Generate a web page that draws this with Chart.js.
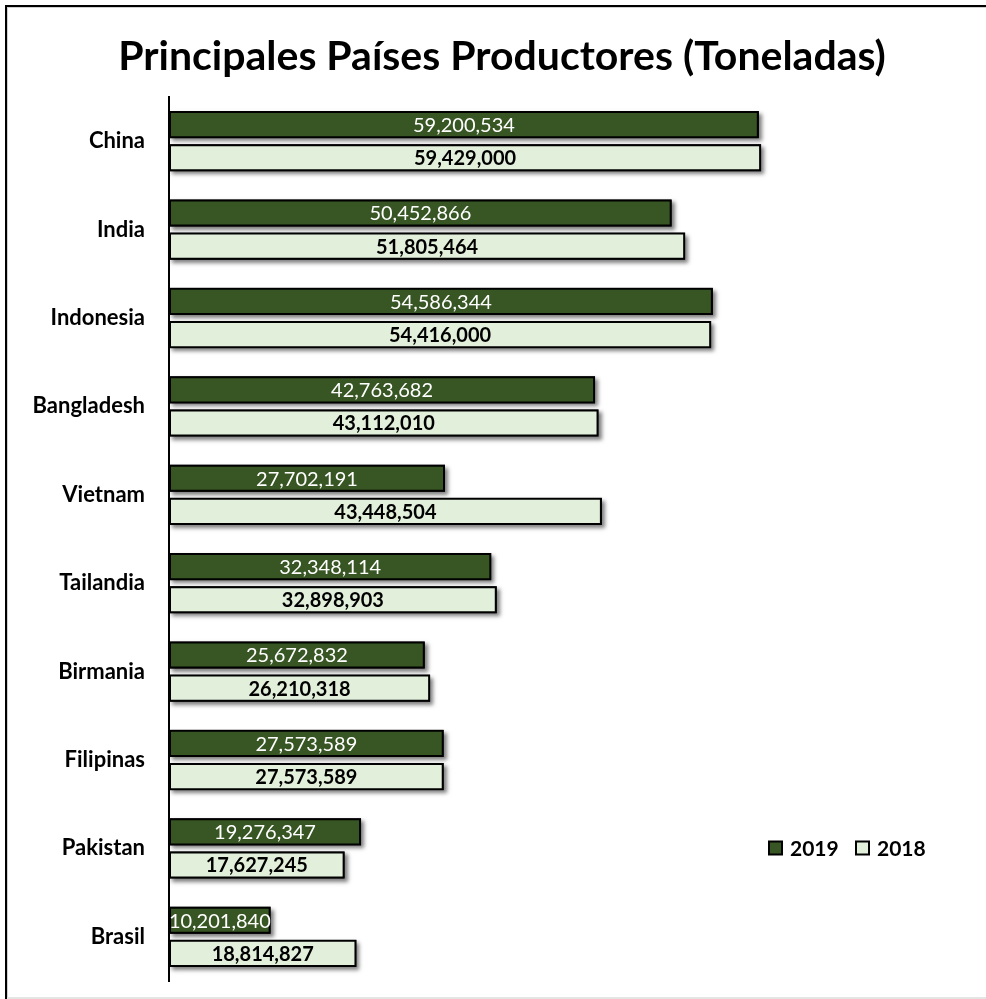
<!DOCTYPE html>
<html>
<head>
<meta charset="utf-8">
<script src="https://cdn.jsdelivr.net/npm/chart.js@4.4.1/dist/chart.umd.min.js"></script>
<style>
    html, body { margin: 0; padding: 0; background: #fff; overflow: hidden; }
    #wrap { position: relative; width: 986px; height: 999px; }
    #myChart { position: absolute; left: 0; top: 0; }
    .frame { position: absolute; left: 5px; top: 5px; width: 990px; height: 1000px;
             border-top: 2px solid #000; border-left: 2px solid #000; pointer-events: none;
             box-shadow: inset 1px 1px 0 #d0d0d0; }
    .bottomLine { position: absolute; left: 7px; bottom: 0; width: 979px; height: 2px; background: #e4e4e4; }
</style>
</head>
<body>
<div id="wrap">
    <canvas id="myChart" width="986" height="999"></canvas>
    <div class="frame"></div>
    <div class="bottomLine"></div>
</div>
<script>
    const categories = ['China', 'India', 'Indonesia', 'Bangladesh', 'Vietnam', 'Tailandia', 'Birmania', 'Filipinas', 'Pakistan', 'Brasil'];
    const values2019 = [59200534, 50452866, 54586344, 42763682, 27702191, 32348114, 25672832, 27573589, 19276347, 10201840];
    const values2018 = [59429000, 51805464, 54416000, 43112010, 43448504, 32898903, 26210318, 27573589, 17627245, 18814827];
    const seriesNames = ['2019', '2018'];
    const titleText = 'Principales Países Productores (Toneladas)';

    const darkGreen = '#375623';
    const lightGreen = '#E2EFDA';

    // pick a narrow font if it is there (Calibri look-alike), else Lato
    const measureCtx = document.createElement('canvas').getContext('2d');
    const hasFont = (name) => {
        measureCtx.font = '40px monospace';
        const a = measureCtx.measureText('Principales 0123').width;
        measureCtx.font = `40px "${name}", monospace`;
        return measureCtx.measureText('Principales 0123').width !== a;
    };
    const fam = hasFont('Liberation Sans Narrow') ? '"Liberation Sans Narrow"' : 'Lato';

    // font size so a text has the same width as in the picture
    const fitSize = (text, weight, target) => {
        measureCtx.font = `${weight} 100px ${fam}`;
        return Math.round(100 * target / measureCtx.measureText(text).width);
    };
    const titleSize = fitSize(titleText, 'bold', 765);
    const valueSize = fitSize('59,200,534', 'normal', 102);
    const catSize = fitSize('Indonesia', 'bold', 96);
    const legendSize = fitSize('2019', 'bold', 49);

    const barShadow = {
        id: 'barShadow',
        beforeDatasetsDraw(chart) {
            const {ctx} = chart;
            ctx.save();
            ctx.shadowColor = 'rgba(0,0,0,0.5)';
            ctx.shadowBlur = 4;
            ctx.shadowOffsetX = 3;
            ctx.shadowOffsetY = 3;
            ctx.fillStyle = '#000';
            chart.data.datasets.forEach((ds, i) => {
                chart.getDatasetMeta(i).data.forEach(bar => {
                    const {x, y, base, height} = bar.getProps(['x', 'y', 'base', 'height'], true);
                    ctx.fillRect(base, y - height / 2, x - base, height);
                });
            });
            ctx.restore();
        }
    }

    const barLabels = {
        id: 'barLabels',
        afterDatasetsDraw(chart) {
            const {ctx} = chart;
            chart.data.datasets.forEach((ds, i) => {
                chart.getDatasetMeta(i).data.forEach((bar, j) => {
                    const {x, y, base, height} = bar.getProps(['x', 'y', 'base', 'height'], true);
                    ctx.save();
                    ctx.beginPath();
                    ctx.rect(base, y - height / 2, x - base, height);
                    ctx.clip();
                    ctx.font = (i === 0 ? 'normal ' : 'bold ') + valueSize + 'px ' + fam;
                    ctx.fillStyle = i === 0 ? '#fff' : '#000';
                    ctx.textAlign = 'center';
                    ctx.textBaseline = 'middle';
                    ctx.fillText(ds.data[j].toLocaleString('en-US'), (x + base) / 2, y + 1);
                    ctx.restore();
                });
            });
        }
    }

    const sideLegend = {
        id: 'sideLegend',
        afterDraw(chart) {
            const {ctx} = chart;
            const boxes = [{x: 769, text: 790}, {x: 856, text: 877}];
            const yMid = 848;
            ctx.save();
            chart.data.datasets.forEach((ds, i) => {
                ctx.fillStyle = ds.backgroundColor;
                ctx.fillRect(boxes[i].x, yMid - 6.5, 13, 13);
                ctx.strokeStyle = '#000';
                ctx.lineWidth = 2;
                ctx.strokeRect(boxes[i].x, yMid - 6.5, 13, 13);
                ctx.fillStyle = '#000';
                ctx.font = 'bold ' + legendSize + 'px ' + fam;
                ctx.textAlign = 'left';
                ctx.textBaseline = 'middle';
                ctx.fillText(ds.label, boxes[i].text, yMid + 1);
            });
            ctx.restore();
        }
    }

    const ctx = document.getElementById('myChart');

    new Chart(ctx, {
        type: 'bar',
        data: {
            labels: categories,
            datasets: [{
                label: seriesNames[0],
                data: values2019,
                backgroundColor: darkGreen,
                borderColor: '#000',
                borderWidth: 2,
                borderSkipped: false,
                categoryPercentage: 0.75,
                barPercentage: 0.82
            }, {
                label: seriesNames[1],
                data: values2018,
                backgroundColor: lightGreen,
                borderColor: '#000',
                borderWidth: 2,
                borderSkipped: false,
                categoryPercentage: 0.75,
                barPercentage: 0.82
            }]
        },
        plugins: [barShadow, barLabels, sideLegend],
        options: {
            indexAxis: 'y',
            responsive: false,
            animation: false,
            devicePixelRatio: 1,
            layout: {
                padding: {left: 18, right: 0, top: 6, bottom: 18}
            },
            plugins: {
                legend: {display: false},
                tooltip: {enabled: false},
                title: {
                    display: true,
                    text: titleText,
                    color: '#000',
                    font: {family: fam, size: titleSize, weight: 'bold'},
                    padding: {top: 26, bottom: 97 - 6 - 26 - titleSize * 1.2}
                }
            },
            scales: {
                x: {
                    display: false,
                    min: 0,
                    max: 82000000
                },
                y: {
                    grid: {display: false, drawTicks: false},
                    border: {display: true, color: '#000', width: 2},
                    ticks: {
                        color: '#000',
                        padding: 24,
                        font: {family: fam, size: catSize, weight: 'bold'}
                    },
                    afterFit(scale) {
                        scale.width = 151;
                        // no extra room above/below for the first and last label
                        scale.paddingTop = 0;
                        scale.paddingBottom = 0;
                    }
                }
            }
        }
    });
</script>
</body>
</html>
